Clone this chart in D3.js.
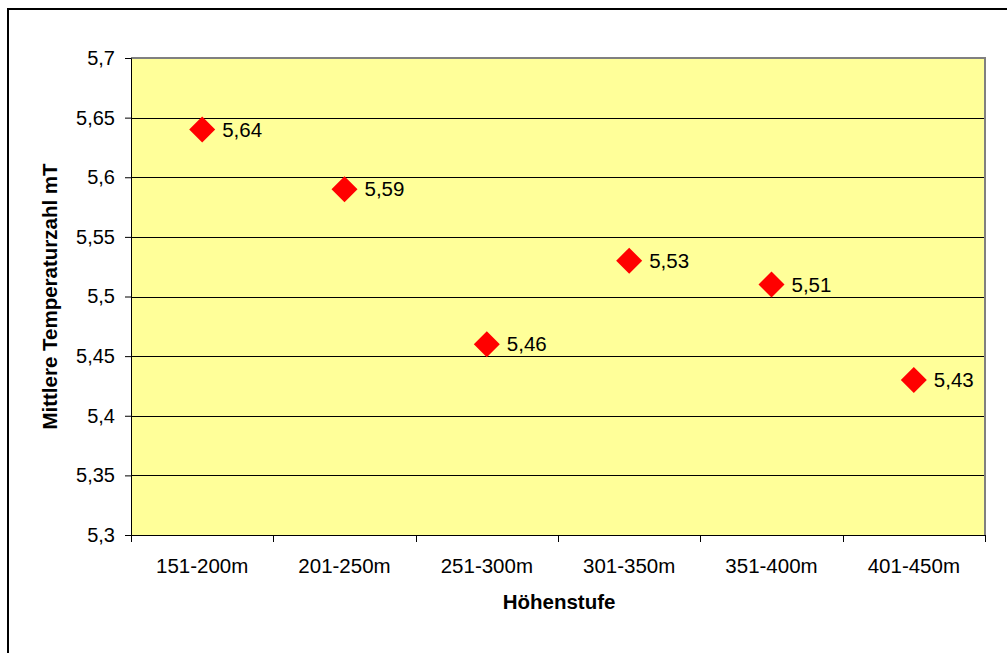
<!DOCTYPE html>
<html>
<head>
<meta charset="utf-8">
<script src="https://cdn.jsdelivr.net/npm/d3@7"></script>
<style>
  html, body { margin: 0; padding: 0; background: #fff; }
  svg { display: block; font-family: Arial, "Liberation Sans", sans-serif; }
</style>
</head>
<body>
<svg id="chart" width="1007" height="653"></svg>
<script>
// Mean temperature index per altitude band
const categories = ["151-200m", "201-250m", "251-300m", "301-350m", "351-400m", "401-450m"];
const values = [5.64, 5.59, 5.46, 5.53, 5.51, 5.43];
const yTicks = [5.3, 5.35, 5.4, 5.45, 5.5, 5.55, 5.6, 5.65, 5.7];

const svg = d3.select("#chart");
const plot = { left: 131, top: 58, right: 985, bottom: 535 };

const fmt = d => String(d).replace(".", ",");

// outer frame
svg.append("rect")
  .attr("x", 8).attr("y", 9)
  .attr("width", 1010).attr("height", 660)
  .attr("fill", "#fff").attr("stroke", "#000").attr("stroke-width", 2);

const x = d3.scaleBand().domain(categories).range([plot.left, plot.right]);
const y = d3.scaleLinear().domain([5.3, 5.7]).range([plot.bottom, plot.top]);

// plot background
svg.append("rect")
  .attr("x", plot.left).attr("y", plot.top)
  .attr("width", plot.right - plot.left).attr("height", plot.bottom - plot.top)
  .attr("fill", "#ffff99");

// gridlines
svg.append("g").selectAll("line")
  .data(yTicks.filter(t => t > 5.3 && t < 5.7))
  .join("line")
  .attr("x1", plot.left).attr("x2", plot.right)
  .attr("y1", d => Math.round(y(d)) + 0.5).attr("y2", d => Math.round(y(d)) + 0.5)
  .attr("stroke", "#000").attr("stroke-width", 1);

// gray border on top and right
svg.append("path")
  .attr("d", `M${plot.left},${plot.top} H${plot.right} V${plot.bottom}`)
  .attr("fill", "none").attr("stroke", "#808080").attr("stroke-width", 2);

// y axis
const yAxis = d3.axisLeft(y).tickValues(yTicks).tickFormat(fmt).tickSize(6).tickPadding(10);
const gy = svg.append("g").attr("transform", `translate(${plot.left},0)`).call(yAxis);
gy.select(".domain").attr("stroke", "#000");
gy.selectAll(".tick line").attr("stroke", "#000");
gy.selectAll("text").attr("font-size", 20).attr("fill", "#000")
  .attr("font-family", "Arial, 'Liberation Sans', sans-serif");

// x axis with ticks at band boundaries
const gx = svg.append("g").attr("transform", `translate(0,${plot.bottom})`);
gx.append("line").attr("x1", plot.left).attr("x2", plot.right)
  .attr("y1", 0.5).attr("y2", 0.5).attr("stroke", "#000");
const bounds = categories.map(c => x(c)).concat([x.range()[1]]);
gx.selectAll(".bt").data(bounds).join("line")
  .attr("x1", d => Math.round(d) + 0.5).attr("x2", d => Math.round(d) + 0.5)
  .attr("y1", 0).attr("y2", 7).attr("stroke", "#000");
gx.selectAll(".cl").data(categories).join("text")
  .attr("x", d => x(d) + x.bandwidth() / 2)
  .attr("y", 38)
  .attr("text-anchor", "middle")
  .attr("font-size", 20.5).attr("fill", "#000")
  .text(d => d);

// axis titles
svg.append("text")
  .attr("x", (plot.left + plot.right) / 2 + 1).attr("y", 609)
  .attr("text-anchor", "middle").attr("font-size", 20.5).attr("font-weight", "bold")
  .text("Höhenstufe");
svg.append("text")
  .attr("transform", `translate(57,${(plot.top + plot.bottom) / 2}) rotate(-90)`)
  .attr("text-anchor", "middle").attr("font-size", 20.5).attr("font-weight", "bold")
  .text("Mittlere Temperaturzahl mT");

// diamond markers
const cx = d => x(d) + x.bandwidth() / 2;
const r = 13;
svg.append("g").selectAll("path")
  .data(categories.map((c, i) => ({ c, v: values[i] })))
  .join("path")
  .attr("d", d => {
    const px = cx(d.c), py = y(d.v);
    return `M${px},${py - r} L${px + r},${py} L${px},${py + r} L${px - r},${py} Z`;
  })
  .attr("fill", "#ff0000");

// value labels
svg.append("g").selectAll("text")
  .data(categories.map((c, i) => ({ c, v: values[i] })))
  .join("text")
  .attr("x", d => cx(d.c) + 20)
  .attr("y", d => y(d.v) + 7)
  .attr("font-size", 20.5).attr("fill", "#000")
  .text(d => fmt(d.v));
</script>
</body>
</html>
